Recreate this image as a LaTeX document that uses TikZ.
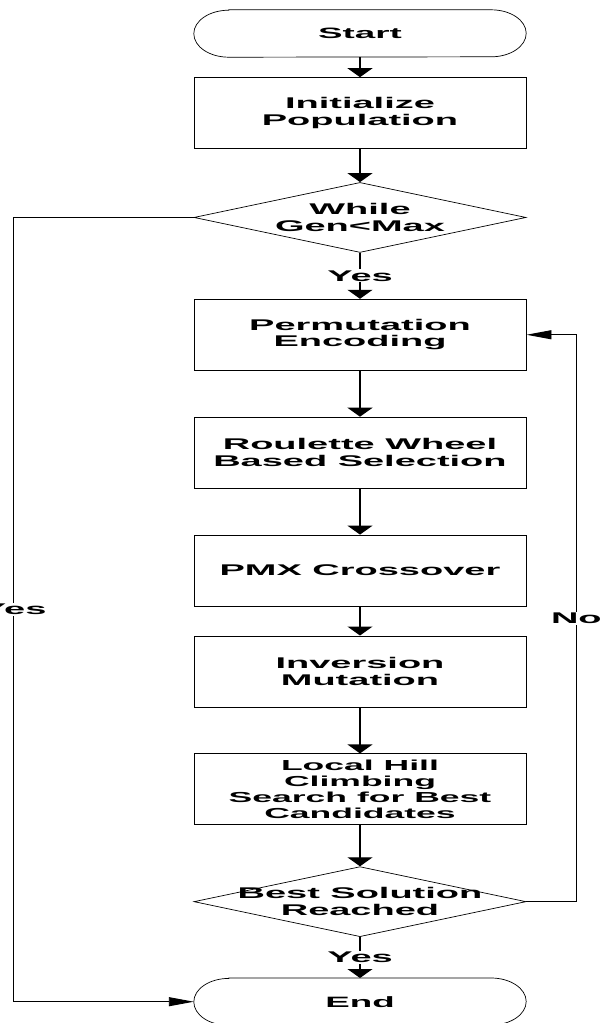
\documentclass[tikz,border=0pt]{standalone}
\usepackage{fontspec}
\newfontfamily\flowfont{Liberation Sans}[FakeStretch=2.45]
\usepackage{tikz}
\usetikzlibrary{shapes,arrows.meta,calc,positioning}
\tikzstyle{term} = [rectangle, minimum width=332pt, minimum height=47pt, inner sep=0pt, font=\flowfont\bfseries\fontsize{15}{16.5}\selectfont]
\tikzstyle{box} = [draw, rectangle, line width=0.9pt, minimum width=332pt, minimum height=71pt, inner sep=0pt, align=center, font=\flowfont\bfseries\fontsize{15.5}{16.5}\selectfont]
\tikzstyle{decision} = [draw, diamond, line width=0.7pt, minimum width=332pt, minimum height=70pt, inner sep=0pt]
\tikzstyle{dtext} = [align=center, inner sep=0pt, font=\flowfont\bfseries\fontsize{15.5}{16.5}\selectfont]
\tikzstyle{tag} = [fill=white, inner sep=1pt, font=\flowfont\bfseries\fontsize{15.5}{16.5}\selectfont]
\tikzstyle{line} = [draw, line width=1.3pt, -{Triangle[width=25pt,length=9pt]}]
\tikzstyle{hline} = [draw, line width=0.9pt, -{Triangle[width=9pt,length=25pt]}]

\begin{document}
\begin{tikzpicture}
	\useasboundingbox (0,0) rectangle (610pt,-1023pt);

	\node [term] at (360pt,-33.5pt) (start) {Start};
	\node [box, below=20pt of start] (init) {Initialize\\Population};
	\node [decision, below=33pt of init, label={[dtext]center:While\\Gen<Max}] (while) {};
	\node [box, below=46pt of while] (perm) {Permutation\\Encoding};
	\node [box, below=46pt of perm] (roul) {Roulette Wheel\\Based Selection};
	\node [box, below=46pt of roul] (pmx) {PMX Crossover};
	\node [box, below=29pt of pmx] (inv) {Inversion\\Mutation};
	\node [box, below=46pt of inv, font=\flowfont\bfseries\fontsize{14.5}{15.7}\selectfont] (local) {Local Hill\\Climbing\\Search for Best\\Candidates};
	\node [decision, below=41pt of local, label={[dtext]center:Best Solution\\Reached}] (best) {};
	\node [term, below=41pt of best] (end) {End};

	% terminal outlines
	\foreach \t in {start,end}
		\draw [line width=0.7pt] ([xshift=35pt]\t.north west) -- ([xshift=-35pt]\t.north east)
			arc[start angle=90, end angle=-90, x radius=35pt, y radius=23.5pt]
			-- ([xshift=35pt]\t.south west)
			arc[start angle=270, end angle=90, x radius=35pt, y radius=23.5pt] -- cycle;

	\coordinate (lft) at ($(while.west)+(-180pt,0)$);
	\coordinate (rgt) at ($(best.east)+(50pt,0)$);

	\path [line] (start) -- (init);
	\path [line] (init) -- (while);
	\path [line] (while) -- node[tag]{Yes} (perm);
	\path [line] (perm) -- (roul);
	\path [line] (roul) -- (pmx);
	\path [line] (pmx) -- (inv);
	\path [line] (inv) -- (local);
	\path [line] (local) -- (best);
	\path [line] (best) -- node[tag]{Yes} (end);

	\path [hline] (while.west) -- (lft) |- node[tag, pos=0.25]{Yes} (end.west);
	\path [hline] (best.east) -- (rgt) |- node[tag, pos=0.25]{No} (perm.east);
\end{tikzpicture}
\end{document}
